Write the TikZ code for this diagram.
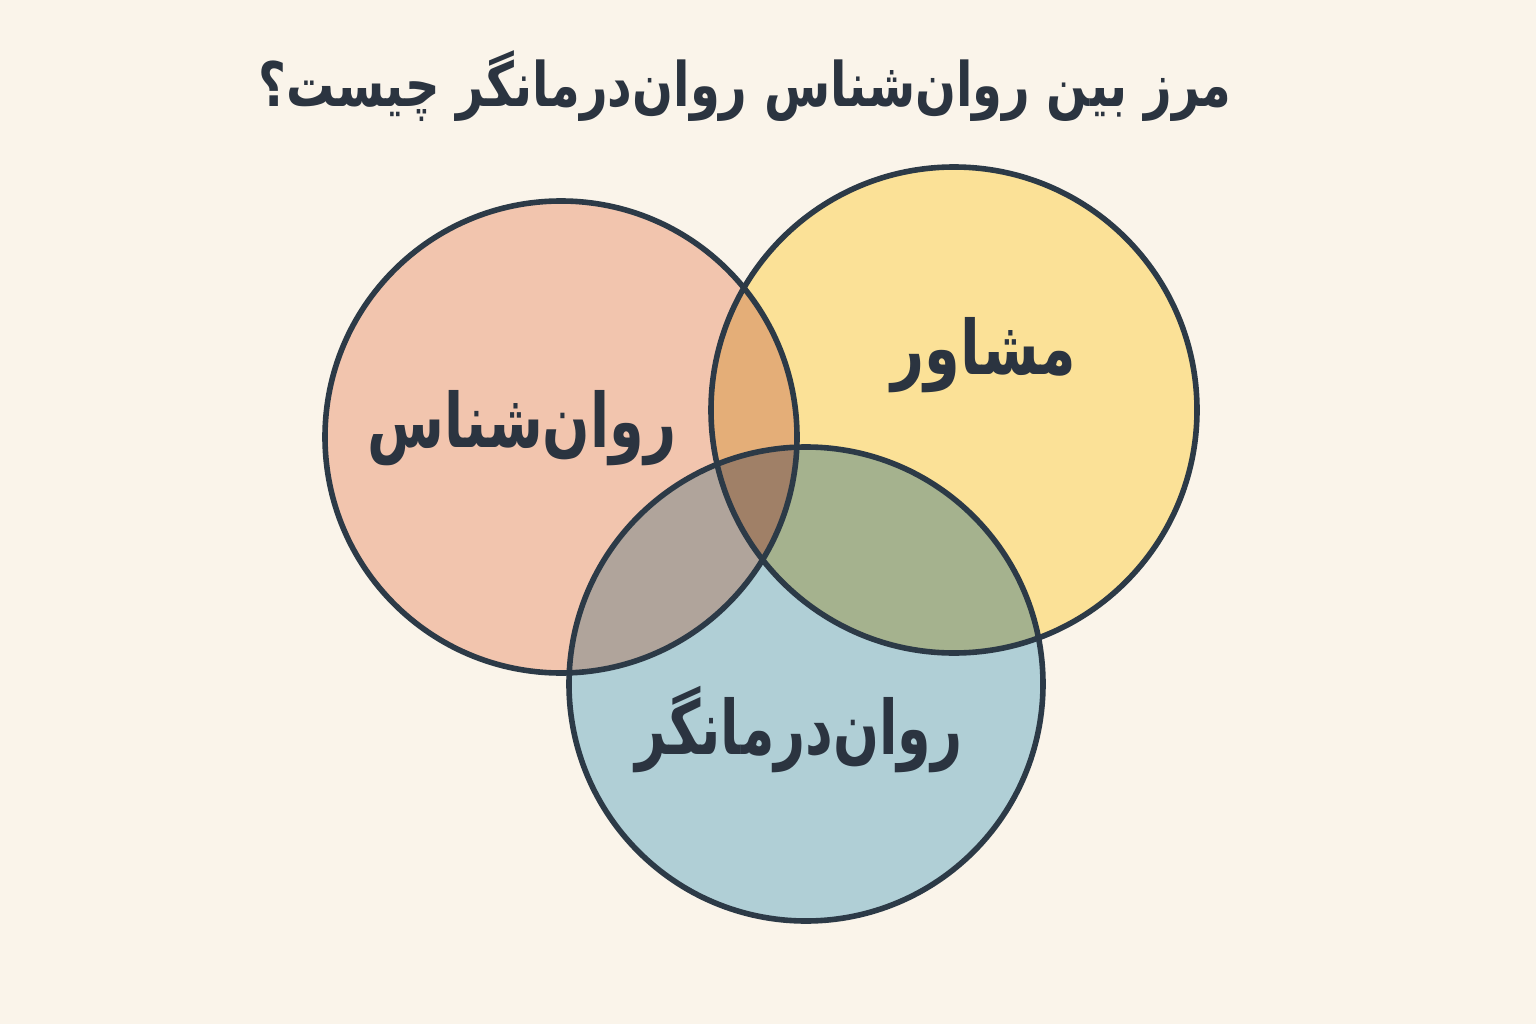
\documentclass[tikz,border=0pt]{standalone}
\usepackage{fontspec}
\newfontfamily\fa[Script=Arabic]{DejaVu Sans}
\TeXXeTstate=1
\definecolor{bgc}{HTML}{FAF4EA}
\definecolor{pinkc}{HTML}{F2C5AE}
\definecolor{yelc}{HTML}{FBE197}
\definecolor{bluec}{HTML}{B0CFD6}
\definecolor{orangec}{HTML}{E4AE78}
\definecolor{greyc}{HTML}{B0A49B}
\definecolor{greenc}{HTML}{A5B28E}
\definecolor{brownc}{HTML}{A08067}
\definecolor{strokec}{HTML}{2C3A47}
\definecolor{textc}{HTML}{2B3440}
\tikzset{
  ring/.style={draw=strokec, line width=4.2pt},
  lbl/.style={text=textc, inner sep=0pt, font=\fa\bfseries\fontsize{44}{52}\selectfont},
  ttl/.style={text=textc, inner sep=0pt, font=\fa\bfseries\fontsize{36}{44}\selectfont}
}
\begin{document}
\begin{tikzpicture}[x=0.75pt,y=-0.75pt]
\fill[bgc] (0,0) rectangle (1536,1024);
\useasboundingbox (0,0) rectangle (1536,1024);
\coordinate (P) at (561,437);
\coordinate (Y) at (954,410);
\coordinate (B) at (806,684);
\def\rP{177pt}
\def\rY{182.25pt}
\def\rB{177.75pt}
\fill[pinkc] (P) circle[radius=\rP];
\fill[yelc] (Y) circle[radius=\rY];
\fill[bluec] (B) circle[radius=\rB];
\begin{scope}
  \clip (Y) circle[radius=\rY];
  \fill[greenc] (B) circle[radius=\rB];
\end{scope}
\begin{scope}
  \clip (P) circle[radius=\rP];
  \fill[orangec] (Y) circle[radius=\rY];
  \fill[greyc] (B) circle[radius=\rB];
  \clip (Y) circle[radius=\rY];
  \fill[brownc] (B) circle[radius=\rB];
\end{scope}
\draw[ring] (P) circle[radius=\rP];
\draw[ring] (Y) circle[radius=\rY];
\draw[ring] (B) circle[radius=\rB];
\node[ttl] (title) at (745,86) {\scalebox{1.0}[1.28]{\beginR مرز  بین روان^^^^200cشناس روان^^^^200cدرمانگر چیست؟\endR}};
\node[lbl] (lp) at (522,428) {\scalebox{0.95}[1.28]{\beginR روان^^^^200cشناس\endR}};
\node[lbl] (lc) at (984,355) {\scalebox{0.98}[1.28]{\beginR مشاور\endR}};
\node[lbl] (lt) at (799,730) {\scalebox{0.92}[1.28]{\beginR روان^^^^200cدرمانگر\endR}};
\end{tikzpicture}
\end{document}
